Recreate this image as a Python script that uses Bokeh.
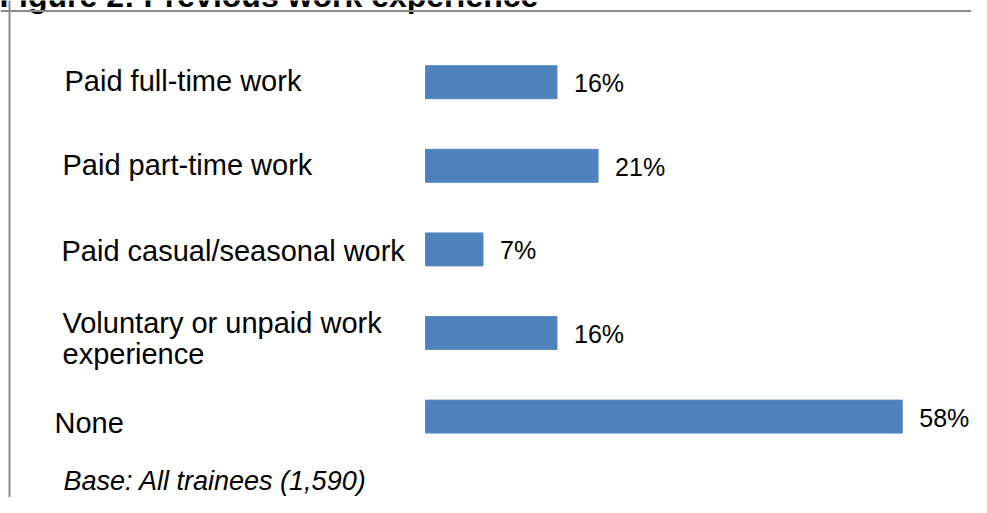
from bokeh.plotting import figure
from bokeh.models import ColumnDataSource, Range1d, Span
from bokeh.embed import file_html
from bokeh.resources import INLINE
from bokeh.core.properties import value

# ---- data ----
title_text = "Figure 2: Previous work experience"
categories = ["Paid full-time work", "Paid part-time work", "Paid casual/seasonal work",
              "Voluntary or unpaid work\nexperience", "None"]
percent = [16, 21, 7, 16, 58]
value_labels = ["16%", "21%", "7%", "16%", "58%"]
note_text = "Base: All trainees (1,590)"

# ---- layout (pixels) ----
W, H = 971, 497
zero_px = 425.0          # canvas x of 0%
px_per_pct = 8.22
first_center_px = 81.7   # canvas y of first bar centre
row_px = 83.6
bar_px = 33.0

x0 = -zero_px / px_per_pct
x1 = (W - zero_px) / px_per_pct
y_top = -first_center_px / row_px
y_bot = (H - first_center_px) / row_px

def ydata(py):
    return (py - first_center_px) / row_px

def xdata(px):
    return (px - zero_px) / px_per_pct

idx = list(range(len(categories)))
label_dx = [-361, -363, -364, -363, -371]
label_dy = [-1.7, -0.8, 1.1, 5.5, 6.4]

src = ColumnDataSource(dict(y=idx, pct=percent, cat=categories, lab=value_labels,
                            ldx=label_dx, ldy=label_dy))

p = figure(width=W, height=H, output_backend="svg", toolbar_location=None,
           x_range=Range1d(x0, x1), y_range=Range1d(y_bot, y_top),
           min_border=0, min_border_left=0, min_border_right=0,
           min_border_top=0, min_border_bottom=0)
p.axis.visible = False
p.grid.visible = False
p.outline_line_color = None
p.background_fill_color = "white"
p.border_fill_color = "white"

p.hbar(y="y", left=0, right="pct", height=bar_px / row_px, source=src,
       fill_color="#4F81BD", line_color="#5b8cc6", line_width=1)

p.text(x="pct", y="y", text="lab", source=src, x_offset=17, y_offset=1,
       text_font=value("Liberation Sans"), text_font_size="25px",
       text_color="black", text_baseline="middle", text_align="left")

p.text(x=0, y="y", text="cat", source=src, x_offset="ldx", y_offset="ldy",
       text_font=value("Liberation Sans"), text_font_size="29px",
       text_color="black", text_baseline="middle", text_align="left",
       text_line_height=0.98)

# footnote
p.text(x=[xdata(63)], y=[ydata(480)], text=[note_text],
       text_font=value("Liberation Sans"), text_font_size="27px",
       text_font_style="italic", text_color="black",
       text_baseline="middle", text_align="left")

# title (only its lower part is visible, as in the cropped original)
p.text(x=[xdata(-1)], y=[ydata(-4.5)], text=[title_text],
       text_font=value("Liberation Sans"), text_font_size="32px",
       text_font_style="bold", text_color="black",
       text_baseline="middle", text_align="left")

p.add_layout(Span(location=xdata(9), dimension="height",
                  line_color="#8a8a8a", line_width=2))
p.add_layout(Span(location=ydata(10.5), dimension="width",
                  line_color="#8a8a8a", line_width=2))

open("out.html", "w").write(file_html(p, INLINE))
